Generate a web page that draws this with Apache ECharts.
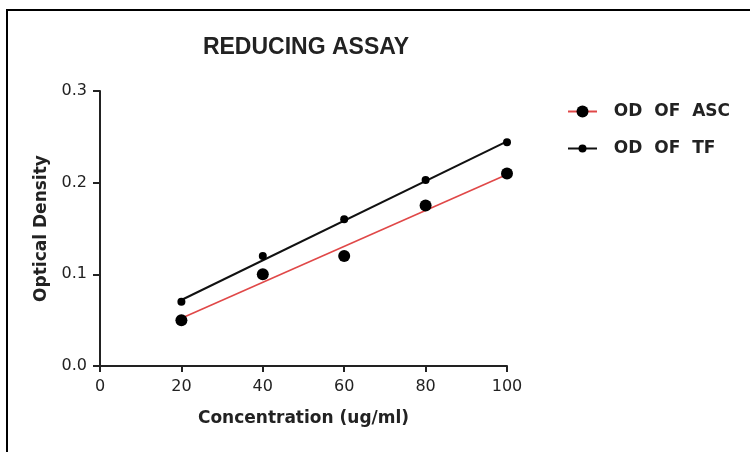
<!DOCTYPE html>
<html>
<head>
<meta charset="utf-8">
<script src="https://cdn.jsdelivr.net/npm/echarts@6/dist/echarts.min.js"></script>
<style>
html,body{margin:0;padding:0;background:#fff;}
#chart{width:750px;height:452px;}
</style>
</head>
<body>
<div id="chart"></div>
<script>
var concentration = [20, 40, 60, 80, 100];
var odAsc = [0.05, 0.10, 0.12, 0.175, 0.21];
var odTf = [0.07, 0.12, 0.16, 0.203, 0.244];
var fitX = [20, 100];
var fitAsc = [0.052, 0.209];
var fitTf = [0.072, 0.245];
var xTicks = [0, 20, 40, 60, 80, 100];
var yTicks = [0.0, 0.1, 0.2, 0.3];

function pairs(xs, ys) { return xs.map(function (x, i) { return [x, ys[i]]; }); }

var chart = echarts.init(document.getElementById('chart'), null, {renderer: 'canvas'});
var axisFont = {fontFamily: 'DejaVu Sans', fontSize: 16, color: '#222'};
var nameFont = {fontFamily: 'DejaVu Sans', fontWeight: 'bold', fontSize: 17, color: '#222'};
var legendFont = {fontFamily: 'DejaVu Sans', fontWeight: 'bold', fontSize: 17, color: '#222'};
function legendFmt(n) { return '  ' + n.replace(/ /g, '  '); }

chart.setOption({
  animation: false,
  backgroundColor: '#fff',
  title: {
    text: 'REDUCING ASSAY',
    left: 301, top: 31, textAlign: 'center',
    textStyle: {fontFamily: 'Liberation Sans', fontWeight: 'bold', fontSize: 23, color: '#222'}
  },
  grid: {left: 100, right: 243, top: 91, bottom: 86, containLabel: false},
  legend: [
    {data: ['OD OF ASC'], left: 567, top: 103, padding: 0, itemWidth: 29, itemHeight: 15, selectedMode: false,
     formatter: legendFmt, textStyle: legendFont},
    {data: ['OD OF TF'], left: 567, top: 140, padding: 0, itemWidth: 29, itemHeight: 10, selectedMode: false,
     formatter: legendFmt, textStyle: legendFont}
  ],
  xAxis: {
    type: 'value', min: xTicks[0], max: xTicks[xTicks.length - 1], interval: 20,
    name: 'Concentration (ug/ml)', nameLocation: 'middle', nameGap: 44, nameTextStyle: nameFont,
    axisLine: {lineStyle: {color: '#222', width: 2}},
    axisTick: {length: 6, lineStyle: {color: '#222', width: 2}},
    axisLabel: Object.assign({margin: 13}, axisFont),
    splitLine: {show: false}
  },
  yAxis: {
    type: 'value', min: yTicks[0], max: yTicks[yTicks.length - 1], interval: 0.1,
    name: 'Optical Density', nameLocation: 'middle', nameGap: 50, nameTextStyle: nameFont,
    axisLine: {show: true, lineStyle: {color: '#222', width: 2}},
    axisTick: {show: true, length: 7, lineStyle: {color: '#222', width: 2}},
    axisLabel: Object.assign({margin: 13, formatter: function (v) { return v.toFixed(1); }}, axisFont),
    splitLine: {show: false}
  },
  graphic: [{
    type: 'polyline', silent: true,
    shape: {points: [[7, 452], [7, 10], [750, 10]]},
    style: {stroke: '#000', lineWidth: 2, fill: null}
  }],
  series: [
    {name: 'OD OF ASC', type: 'line', data: pairs(fitX, fitAsc), symbol: 'circle', symbolSize: 12,
     showSymbol: false, lineStyle: {color: '#e04848', width: 1.6}, itemStyle: {color: '#000'}, z: 2},
    {name: 'OD OF TF', type: 'line', data: pairs(fitX, fitTf), symbol: 'circle', symbolSize: 8,
     showSymbol: false, lineStyle: {color: '#111', width: 2}, itemStyle: {color: '#000'}, z: 2},
    {name: 'ASC points', type: 'scatter', data: pairs(concentration, odAsc), symbolSize: 12,
     itemStyle: {color: '#000', opacity: 1}, z: 3},
    {name: 'TF points', type: 'scatter', data: pairs(concentration, odTf), symbolSize: 8,
     itemStyle: {color: '#000', opacity: 1}, z: 3}
  ]
});
</script>
</body>
</html>
